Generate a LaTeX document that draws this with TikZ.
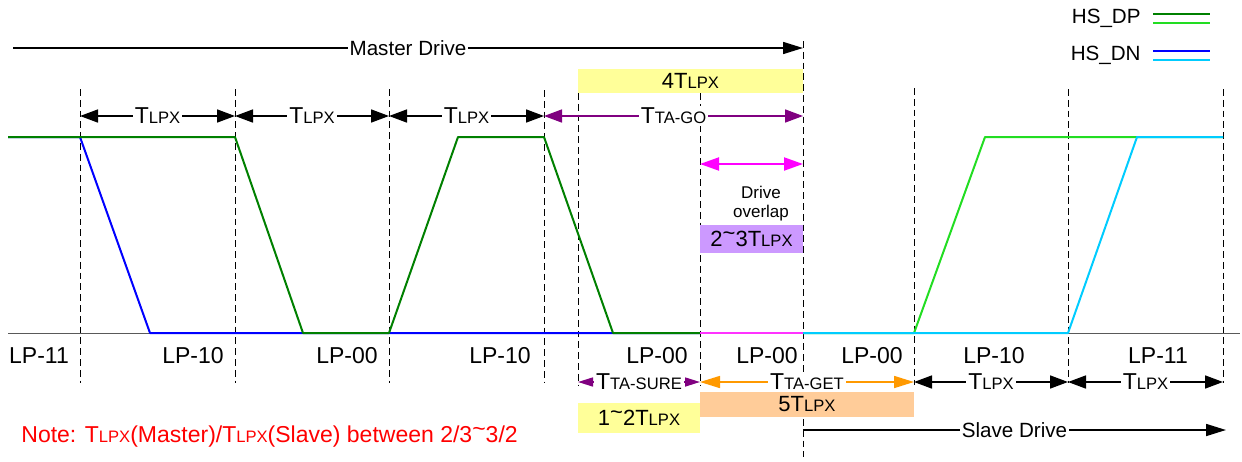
\documentclass[tikz,border=0pt]{standalone}
\usepackage{fontspec}
\setmainfont{Liberation Sans}
\usetikzlibrary{arrows.meta}
\definecolor{dpdark}{HTML}{008000}
\definecolor{dplight}{HTML}{22DD22}
\definecolor{dnblue}{HTML}{0000FF}
\definecolor{dncyan}{HTML}{00CCFF}
\definecolor{tapurple}{HTML}{800080}
\definecolor{ovmagenta}{HTML}{FF00FF}
\definecolor{taorange}{HTML}{FF9900}
\definecolor{boxyellow}{HTML}{FFFF99}
\definecolor{boxorange}{HTML}{FFCC99}
\definecolor{boxpurple}{HTML}{CC99FF}
\newcommand{\tpar}[1]{T{\fontsize{8.3}{9}\selectfont #1}}
\newcommand{\hitilde}{\raisebox{0.28em}{\textasciitilde}}

\begin{document}
\begin{tikzpicture}[x=0.5pt,y=-0.5pt,
    every node/.style={inner sep=1pt,font=\fontsize{11.5}{13.8}\selectfont},
    marker/.style={line width=0.5pt,dash pattern=on 3.4pt off 2pt},
    sig/.style={line width=1pt,line join=round},
    dim/.style={{Triangle[length=9pt,width=6.5pt]}-{Triangle[length=9pt,width=6.5pt]},line width=0.8pt},
    drive/.style={-{Triangle[length=10pt,width=6pt]},line width=0.8pt},
    lbl/.style={fill=white},
    box/.style={rectangle,inner sep=0pt,font=\fontsize{11}{13}\selectfont},
    state/.style={anchor=base},
    legend/.style={anchor=east,font=\fontsize{10.3}{12}\selectfont}
  ]
    \useasboundingbox (0,0) rectangle (1242,461);

    \foreach \x/\t/\b [count=\i] in {80/89/383,235/89/383,389/89/383,544/90/383,578/93/386,
        700/93/386,803/41/457,914/88/385,1068/89/383,1223/89/383} {
      \draw[marker] (\x,\t) -- (\x,\b);
      \coordinate (top\i) at (\x,116);
      \coordinate (low\i) at (\x,382);
    }

    \node[box,fill=boxyellow,minimum width=112.5pt,minimum height=12pt] (go4) at (690.5,81) {4\tpar{LPX}};
    \node[box,fill=boxpurple,minimum width=51.5pt,minimum height=14pt] (ov23) at (751.5,239) {2\hitilde3\tpar{LPX}};
    \node[box,fill=boxorange,minimum width=107pt,minimum height=12.5pt] (get5) at (807,404.5) {5\tpar{LPX}};
    \node[box,fill=boxyellow,minimum width=61pt,minimum height=15pt] (sure12) at (639,418) {1\hitilde2\tpar{LPX}};

    \draw[gray!70!black,line width=0.5pt] (8,333) -- (1240,333);
    \draw[sig,dnblue] (8,137) -- (80,137) -- (150,333) -- (700,333);
    \draw[sig,dpdark] (8,137) -- (235,137) -- (303,333) -- (389,333) -- (458,137) -- (544,137) -- (613,333) -- (700,333);
    \draw[sig,ovmagenta!80!white] (700,333) -- (803,333);
    \draw[sig,dplight] (803,333) -- (914,333) -- (985,137) -- (1223,137);
    \draw[sig,dncyan] (803,333) -- (1068,333) -- (1137,137) -- (1223,137);

    \coordinate (mstart) at (13,48);
    \coordinate (mend) at (803,48);
    \coordinate (sstart) at (803,430);
    \coordinate (send) at (1226,430);
    \coordinate (ovl) at (700,164);
    \coordinate (ovr) at (803,164);

    \draw[drive] (mstart) -- node[lbl,font=\fontsize{10.3}{12}\selectfont] (master) {Master Drive} (mend);
    \draw[drive] (sstart) -- node[lbl,font=\fontsize{10.3}{12}\selectfont] (slave) {Slave Drive} (send);

    \draw[dim] (top1) -- node[lbl] (lpxa) {\tpar{LPX}} (top2);
    \draw[dim] (top2) -- node[lbl] (lpxb) {\tpar{LPX}} (top3);
    \draw[dim] (top3) -- node[lbl] (lpxc) {\tpar{LPX}} (top4);
    \draw[dim,tapurple] (top4) -- node[lbl,text=black] (tago) {\tpar{TA-GO}} (top7);
    \draw[dim,ovmagenta,line width=1pt,{Triangle[length=9.5pt,width=6.5pt]}-{Triangle[length=9.5pt,width=6.5pt]}] (ovl) -- (ovr);
    \node[align=center,font=\fontsize{8.5}{9.5}\selectfont] (ovtxt) at (761,204) {Drive\\overlap};

    \draw[dim,tapurple,{Triangle[length=7.5pt,width=4.5pt]}-{Triangle[length=7.5pt,width=4.5pt]}] (low5) -- node[lbl,text=black] (tasure) {\tpar{TA-SURE}} (low6);
    \draw[dim,taorange,{Triangle[length=10pt,width=6pt]}-{Triangle[length=10pt,width=6pt]}] (low6) -- node[lbl,text=black] (taget) {\tpar{TA-GET}} (low8);
    \draw[dim] (low8) -- node[lbl] (lpxd) {\tpar{LPX}} (low9);
    \draw[dim] (low9) -- node[lbl] (lpxe) {\tpar{LPX}} (low10);

    \foreach \x/\s [count=\i] in {39/LP-11,193/LP-10,347/LP-00,500/LP-10,657/LP-00,767/LP-00,872/LP-00,994/LP-10,1158/LP-11}
      \node[state] (lp\i) at (\x,363) {\s};

    \node[legend] (dp) at (1143,18) {HS\_DP};
    \node[legend] (dn) at (1143,55) {HS\_DN};
    \draw[sig,dpdark] (1153,14) -- (1210,14);
    \draw[sig,dplight] (1153,23) -- (1210,23);
    \draw[sig,dnblue] (1153,51) -- (1210,51);
    \draw[sig,dncyan] (1153,60) -- (1210,60);

    \node[anchor=west,text=red] (note) at (19,437) {Note: \tpar{LPX}(Master)/\tpar{LPX}(Slave) between 2/3\hitilde3/2};
\end{tikzpicture}
\end{document}
